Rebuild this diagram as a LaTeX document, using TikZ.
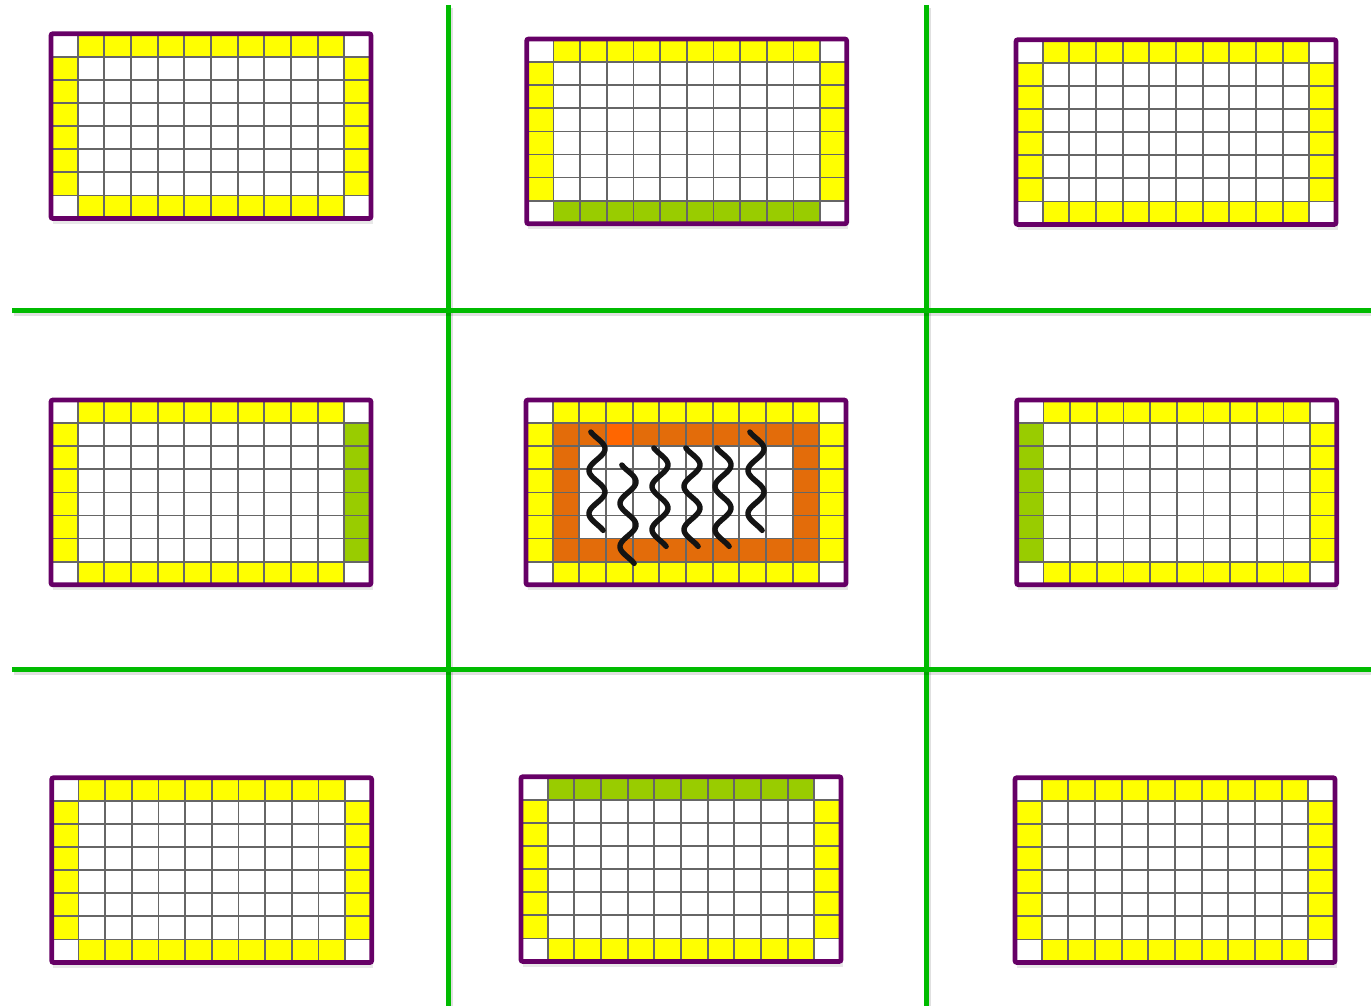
\documentclass[tikz,border=0pt]{standalone}
\usetikzlibrary{shadows}
\definecolor{cgreen}{RGB}{0,187,0}
\definecolor{cpurple}{RGB}{102,0,102}
\definecolor{cyellow}{RGB}{255,255,0}
\definecolor{clime}{RGB}{153,204,0}
\definecolor{corange}{RGB}{227,108,10}
\definecolor{chot}{RGB}{255,102,0}
\definecolor{cgrid}{RGB}{102,102,102}
\tikzset{halogrid/.style={x=0.5pt,y=-0.5pt},
  cell/.style={x=13.333pt,y=-11.55pt},
  sep/.style={cgreen,line width=2.5pt,
    preaction={draw=black,opacity=0.12,line width=3.5pt,transform canvas={xshift=0.8pt,yshift=-1.4pt}}},
  panelshadow/.style={drop shadow={opacity=0.18,shadow xshift=0.8pt,shadow yshift=-2.6pt}},
  wave/.style={black!92,line width=2.7pt,line cap=round}}

\begin{document}
\begin{tikzpicture}[halogrid]
    \useasboundingbox (0,0) rectangle (1371,1006);
    \foreach \x in {448,926} \draw[sep] (\x,5) -- (\x,1006);
    \foreach \y in {310,669} \draw[sep] (12,\y) -- (1371,\y);
    % origin / top / bottom / left / right / ring / hot cell
    \foreach \px/\py/\ct/\cb/\cl/\cr/\ring/\hot in {
        51/33.7/cyellow/cyellow/cyellow/cyellow/white/white,
        526.7/39/cyellow/clime/cyellow/cyellow/white/white,
        1016/39.7/cyellow/cyellow/cyellow/cyellow/white/white,
        51/400/cyellow/cyellow/cyellow/clime/white/white,
        526/400/cyellow/cyellow/cyellow/cyellow/corange/chot,
        1016.7/400/cyellow/cyellow/clime/cyellow/white/white,
        51.7/777.7/cyellow/cyellow/cyellow/cyellow/white/white,
        521/776.7/clime/cyellow/cyellow/cyellow/white/white,
        1015/777.7/cyellow/cyellow/cyellow/cyellow/white/white} {
      \begin{scope}[shift={(\px,\py)},cell]
        \fill[white,panelshadow] (0,0) rectangle (12,8);
        \fill[\ct] (1,0) rectangle (11,1);
        \fill[\cb] (1,7) rectangle (11,8);
        \fill[\cl] (0,1) rectangle (1,7);
        \fill[\cr] (11,1) rectangle (12,7);
        \fill[\ring] (1,1) rectangle (11,7);
        \fill[white] (2,2) rectangle (10,6);
        \fill[\hot] (3,1) rectangle (4,2);
        \foreach \i in {1,...,11} \draw[cgrid,line width=0.85pt] (\i,0) -- (\i,8);
        \foreach \j in {1,...,7} \draw[cgrid,line width=0.85pt] (0,\j) -- (12,\j);
        \draw[cpurple,line width=2.4pt,rounded corners=1pt] (0,0) rectangle (12,8);
      \end{scope}
    }
    % heat in the middle panel
    \foreach \cx/\ty in {597/432,628/465,660/448,692/448,723/448,756/432}
      \draw[wave] plot[variable=\t,domain=-50:770,samples=80,smooth] ({\cx+8*sin(\t)},{\ty+(\t+50)*0.12});
\end{tikzpicture}
\end{document}
